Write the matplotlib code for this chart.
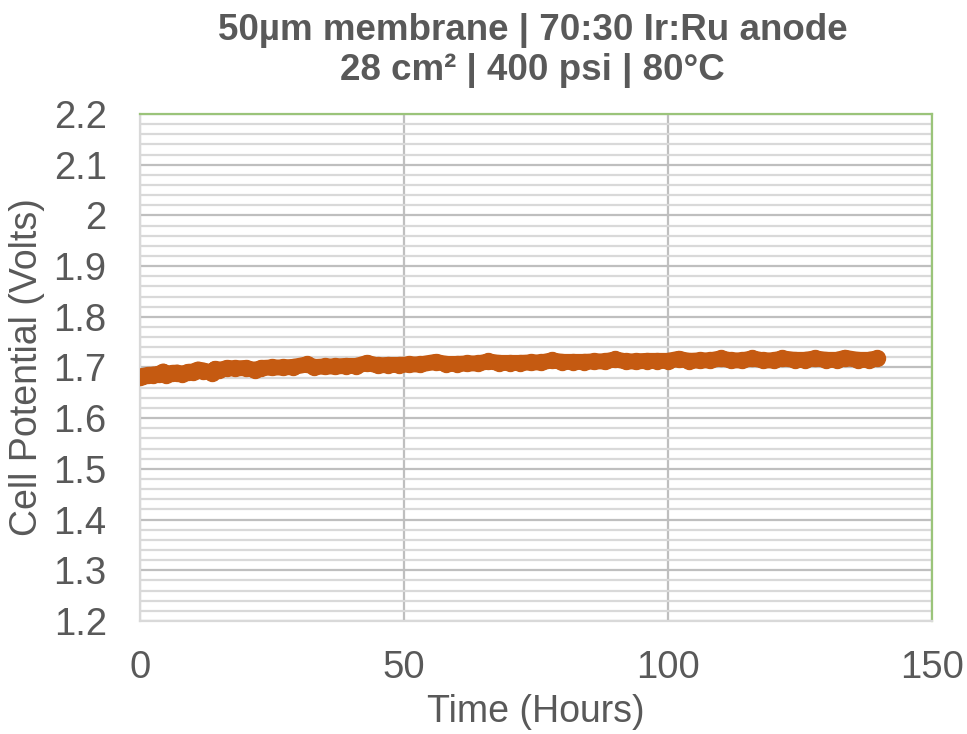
import matplotlib
matplotlib.use('Agg')
import matplotlib.pyplot as plt
from matplotlib.ticker import MultipleLocator

plt.rcParams['font.family'] = ['Liberation Sans', 'DejaVu Sans']

# Cell potential vs time
hours = [0, 0.5, 1.5, 2.5, 3.5, 4.4, 5.0, 6.0, 7.0, 8.0, 9.0, 10.0, 11.0, 12.0,
         13.6, 14.2, 15.0, 16.5, 18, 20, 21.8, 23, 25, 27, 29, 31.6, 33, 35, 37,
         39, 41, 43, 45, 47, 49, 51, 53, 56, 58, 60, 62, 64, 66, 68, 70, 72, 74,
         76, 78, 80, 82, 84, 86, 88, 90, 92, 94, 96, 98, 100, 102, 104, 106, 108,
         110, 112, 114, 116, 118, 120, 121.6, 124, 126, 127.8, 130, 132, 133.5,
         136, 138, 139.6]
volts = [1.681, 1.683, 1.685, 1.686, 1.687, 1.692, 1.686, 1.689, 1.690, 1.687,
         1.691, 1.692, 1.696, 1.694, 1.690, 1.697, 1.695, 1.699, 1.698, 1.699,
         1.695, 1.699, 1.700, 1.700, 1.701, 1.706, 1.701, 1.702, 1.702, 1.703,
         1.703, 1.709, 1.704, 1.705, 1.705, 1.706, 1.706, 1.711, 1.707, 1.707,
         1.708, 1.708, 1.712, 1.709, 1.709, 1.709, 1.710, 1.710, 1.714, 1.711,
         1.711, 1.711, 1.712, 1.712, 1.716, 1.712, 1.712, 1.713, 1.713, 1.713,
         1.717, 1.713, 1.714, 1.714, 1.718, 1.714, 1.714, 1.718, 1.714, 1.714,
         1.718, 1.715, 1.715, 1.718, 1.715, 1.715, 1.719, 1.715, 1.715, 1.718]

title = "50\u00b5m membrane | 70:30 Ir:Ru anode\n28 cm\u00b2 | 400 psi | 80\u00b0C"
txt = '#595959'

fig = plt.figure(figsize=(9.67, 7.34), dpi=100)
ax = fig.add_axes([0.1448, 0.154, 0.819, 0.6907])

ax.plot(hours, volts, color='#C55A11', lw=11.5, marker='o', ms=11.5,
        solid_capstyle='round', solid_joinstyle='round', zorder=3)

ax.set_xlim(0, 150)
ax.set_ylim(1.2, 2.2)
ax.xaxis.set_major_locator(MultipleLocator(50))
ax.yaxis.set_minor_locator(MultipleLocator(0.02))
ax.set_yticks([1.2 + 0.1 * i for i in range(11)])
ax.set_yticklabels(['1.2', '1.3', '1.4', '1.5', '1.6', '1.7', '1.8', '1.9', '2', '2.1', '2.2'])

ax.grid(which='major', color='#bfbfbf', lw=1.6)
ax.grid(which='minor', axis='y', color='#d9d9d9', lw=1.6)
ax.set_axisbelow(True)
ax.tick_params(which='both', length=0, labelsize=27.5, colors=txt)
ax.tick_params(axis='y', pad=24)
ax.tick_params(axis='x', pad=21)

for s in ['left', 'bottom']:
    ax.spines[s].set_color('#d9d9d9')
    ax.spines[s].set_linewidth(1.6)
for s in ['top', 'right']:
    ax.spines[s].set_color('#9bc47a')
    ax.spines[s].set_linewidth(1.6)

ax.set_xlabel("Time (Hours)", fontsize=27, color=txt, labelpad=6)
ax.set_ylabel("Cell Potential (Volts)", fontsize=27, color=txt, labelpad=6)
fig.text(0.551, 0.982, title, ha='center', va='top', fontsize=26.5,
         fontweight='bold', color=txt, linespacing=1.17)

plt.savefig('out.png', dpi=100)
